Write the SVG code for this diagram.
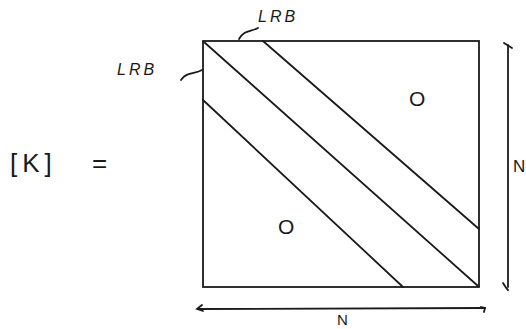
<svg xmlns="http://www.w3.org/2000/svg" width="526" height="329" viewBox="0 0 526 329">
<style>
.ln{stroke:#1a1a1a;stroke-width:1.8;fill:none;stroke-linecap:round}
.t{font-family:"Liberation Sans",Arial,sans-serif;fill:#1a1a1a}
.lrb{font-size:16px;font-style:italic;letter-spacing:3px}
</style>
<rect width="526" height="329" fill="#ffffff"/>
<g id="matrix">
<rect class="ln" x="203" y="41" width="276" height="246"/>
</g>
<g id="connectors">
<line class="ln" x1="204" y1="42" x2="478" y2="286"/>
<line class="ln" x1="263" y1="41" x2="479" y2="229"/>
<line class="ln" x1="203" y1="100" x2="403" y2="287"/>
<path class="ln" d="M239 39 C244 30,250 32,258 28"/>
<path class="ln" d="M181 80 C186 72,195 74,202 70"/>
<line class="ln" x1="508" y1="45" x2="508" y2="287"/>
<path class="ln" d="M504 43 L512 48"/>
<path class="ln" d="M503 283 Q506 288 508 290"/>
<line class="ln" x1="198" y1="309" x2="485" y2="308"/>
<path class="ln" d="M202 305 L197 309 L203 311"/>
<path class="ln" d="M481 307 L485 308 L484 312"/>
</g>
<g id="labels">
<text class="t lrb" x="258" y="22">LRB</text>
<text class="t lrb" x="117" y="75">LRB</text>
<text class="t" x="10" y="172" font-size="26" letter-spacing="5">[K]</text>
<text class="t" x="92" y="172" font-size="26">=</text>
<text class="t" x="409" y="106" font-size="21">O</text>
<text class="t" x="278" y="234" font-size="21">O</text>
<text class="t" x="513" y="172" font-size="17">N</text>
<text class="t" x="337" y="325" font-size="15">N</text>
</g>
</svg>
